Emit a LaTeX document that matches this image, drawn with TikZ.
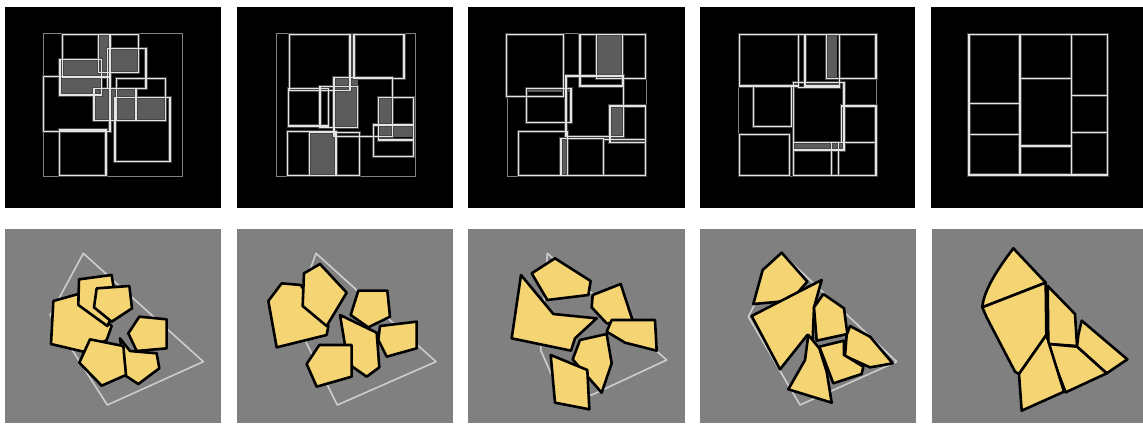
\documentclass[tikz,border=0pt]{standalone}
\usepackage{tikz}
\definecolor{ovl}{RGB}{92,92,92}
\definecolor{glow}{RGB}{70,70,70}
\definecolor{brt}{RGB}{228,228,228}
\definecolor{frm}{RGB}{130,130,130}
\definecolor{bgg}{RGB}{128,128,128}
\definecolor{yel}{RGB}{245,213,115}
\definecolor{cont}{RGB}{205,205,205}
\tikzset{
  ovlfill/.style={fill=ovl},
  boxglow/.style={draw=glow,line width=3.2pt},
  boxline/.style={draw=brt,line width=1.5pt},
  framebox/.style={draw=frm,line width=0.9pt},
  piece/.style={fill=yel,draw=black,line width=2.6pt,line join=round},
  container/.style={draw=cont,line width=1.6pt,line join=round},
  panel/.style={x=0.33333pt,y=-0.33333pt}
}
\newcommand\boxes[1]{%
  \foreach \ax/\ay/\bx/\by in {#1}{\draw[boxglow] (\ax,\ay) rectangle (\bx,\by);}%
  \foreach \ax/\ay/\bx/\by in {#1}{\draw[boxline] (\ax,\ay) rectangle (\bx,\by);}%
}
\newcommand\grays[1]{%
  \foreach \ax/\ay/\bx/\by in {#1}{\fill[ovlfill] (\ax,\ay) rectangle (\bx,\by);}%
}
\begin{document}
\begin{tikzpicture}[x=1pt,y=-1pt]
\useasboundingbox (0,0) rectangle (1143,423);
\fill[white] (0,0) rectangle (1143,423);
% top panels
\fill[black] (5,7) rectangle (221,208);
\fill[black] (237,7) rectangle (453,208);
\fill[black] (468,7) rectangle (685,208);
\fill[black] (700,7) rectangle (915,208);
\fill[black] (931,7) rectangle (1143,208);
% bottom panels
\fill[bgg] (5,229) rectangle (221,423);
\fill[bgg] (237,229) rectangle (453,423);
\fill[bgg] (468,229) rectangle (685,423);
\fill[bgg] (700,229) rectangle (916,423);
\fill[bgg] (932,229) rectangle (1143,423);

% ---------- panel 1 ----------
\begin{scope}[shift={(0,0)},panel]
  \grays{298/106/328/230, 325/145/415/218, 180/178/305/285, 282/265/408/362, 408/293/497/362}
  \draw[framebox] (130,101) rectangle (547,530);
  \boxes{188/104/330/232, 296/104/415/218, 323/145/438/265, 180/178/305/285, 130/230/330/395, 350/235/497/362, 282/265/408/362, 345/293/510/485, 178/390/318/527}
\end{scope}
% ---------- panel 2 ----------
\begin{scope}[shift={(230,0)},panel]
  \grays{315/235/383/380, 243/398/318/527, 445/295/488/410, 488/375/548/410}
  \draw[framebox] (138,101) rectangle (555,528);
  \boxes{178/103/360/272, 372/103/522/235, 312/232/487/410, 175/265/295/378, 270/260/383/382, 445/293/550/420, 430/375/550/470, 172/395/318/527, 238/398/388/527}
\end{scope}
% ---------- panel 3 ----------
\begin{scope}[shift={(460,0)},panel]
  \grays{412/105/485/235, 455/320/490/410, 200/265/333/275, 305/415/322/527}
  \draw[framebox] (143,101) rectangle (560,528);
  \boxes{140/103/310/290, 360/103/488/258, 410/103/557/235, 318/228/490/410, 200/265/333/368, 450/318/557/428, 175/395/322/527, 303/415/430/527, 430/418/557/527}
\end{scope}
% ---------- panel 4 ----------
\begin{scope}[shift={(690,0)},panel]
  \grays{415/105/440/235, 312/430/460/450}
  \draw[framebox] (145,101) rectangle (558,528);
  \boxes{148/103/325/258, 325/103/448/262, 345/103/448/258, 410/103/558/235, 190/260/305/380, 310/248/462/450, 455/318/558/428, 148/403/298/527, 310/428/445/527, 425/428/558/527}
\end{scope}
% ---------- panel 5 ----------
\begin{scope}[shift={(915,0)},panel]
  \grays{464/105/474/285}
  \boxes{162/103/315/310, 162/310/315/403, 162/403/315/525, 315/103/470/235, 315/235/470/438, 315/438/470/525, 470/103/578/287, 470/287/578/397, 470/397/578/525}
\end{scope}

% ---------- panel 6 ----------
\begin{scope}[shift={(0,220)},panel]
  \draw[container] (250,100) -- (610,425) -- (322,555) -- (150,285) -- cycle;
  \filldraw[piece] (160,243) -- (235,222) -- (335,318) -- (320,360) -- (250,395) -- (153,372) -- cycle;
  \filldraw[piece] (237,178) -- (335,165) -- (350,260) -- (322,318) -- (235,255) -- cycle;
  \filldraw[piece] (290,205) -- (388,198) -- (396,265) -- (335,305) -- (282,262) -- cycle;
  \filldraw[piece] (360,355) -- (390,393) -- (470,400) -- (478,445) -- (415,492) -- (378,468) -- cycle;
  \filldraw[piece] (418,290) -- (500,298) -- (500,385) -- (410,393) -- (385,340) -- cycle;
  \filldraw[piece] (270,358) -- (370,378) -- (378,465) -- (305,497) -- (238,428) -- cycle;
\end{scope}
% ---------- panel 7 ----------
\begin{scope}[shift={(230,220)},panel]
  \draw[container] (258,100) -- (618,425) -- (322,555) -- (190,290) -- cycle;
  \filldraw[piece] (155,190) -- (212,195) -- (295,318) -- (290,345) -- (140,382) -- (115,243) -- cycle;
  \filldraw[piece] (270,132) -- (350,218) -- (290,318) -- (218,258) -- (222,160) -- cycle;
  \filldraw[piece] (385,212) -- (472,212) -- (480,290) -- (415,322) -- (362,285) -- cycle;
  \filldraw[piece] (330,285) -- (440,338) -- (448,442) -- (410,470) -- (367,440) -- (345,375) -- cycle;
  \filldraw[piece] (450,318) -- (560,305) -- (560,385) -- (470,410) -- (445,360) -- cycle;
  \filldraw[piece] (268,375) -- (365,375) -- (365,470) -- (260,500) -- (230,432) -- cycle;
\end{scope}
% ---------- panel 8 ----------
\begin{scope}[shift={(460,220)},panel]
  \draw[container] (262,100) -- (620,420) -- (395,525) -- (290,500) -- (242,390) -- cycle;
  \filldraw[piece] (285,115) -- (392,183) -- (385,225) -- (262,240) -- (215,160) -- cycle;
  \filldraw[piece] (183,165) -- (280,282) -- (410,295) -- (345,355) -- (333,392) -- (155,355) -- cycle;
  \filldraw[piece] (398,225) -- (482,192) -- (520,308) -- (440,310) -- (395,262) -- cycle;
  \filldraw[piece] (455,300) -- (585,300) -- (590,392) -- (495,368) -- (440,335) -- cycle;
  \filldraw[piece] (360,360) -- (440,342) -- (455,430) -- (425,518) -- (390,478) -- (338,418) -- cycle;
  \filldraw[piece] (272,405) -- (382,450) -- (388,568) -- (285,548) -- cycle;
\end{scope}
% ---------- panel 9 ----------
\begin{scope}[shift={(690,220)},panel]
  \draw[container] (275,100) -- (620,425) -- (330,555) -- (175,290) -- cycle;
  \filldraw[piece] (275,98) -- (352,185) -- (302,242) -- (190,252) -- (218,150) -- cycle;
  \filldraw[piece] (185,288) -- (395,180) -- (372,262) -- (368,358) -- (352,345) -- (270,448) -- cycle;
  \filldraw[piece] (372,262) -- (400,222) -- (462,265) -- (472,342) -- (380,362) -- cycle;
  \filldraw[piece] (480,318) -- (540,350) -- (608,430) -- (540,442) -- (465,408) -- (470,345) -- cycle;
  \filldraw[piece] (388,380) -- (462,362) -- (462,405) -- (520,440) -- (515,462) -- (430,490) -- cycle;
  \filldraw[piece] (355,345) -- (388,385) -- (410,455) -- (425,548) -- (295,508) -- (345,420) -- cycle;
\end{scope}
% ---------- panel 10 ----------
\begin{scope}[shift={(915,220)},panel]
  \filldraw[piece] (295,85) -- (392,188) -- (202,262) .. controls (205,215) and (245,150) .. (295,85) -- cycle;
  \filldraw[piece] (202,262) -- (392,188) -- (394,345) -- (312,462) -- (300,455) -- (215,292) -- cycle;
  \filldraw[piece] (398,198) -- (480,282) -- (486,378) -- (400,372) -- cycle;
  \filldraw[piece] (500,302) -- (637,418) -- (575,460) -- (486,380) -- (490,345) -- cycle;
  \filldraw[piece] (400,372) -- (486,380) -- (575,460) -- (452,517) -- (405,395) -- cycle;
  \filldraw[piece] (312,462) -- (394,345) -- (447,515) -- (320,572) -- cycle;
\end{scope}
\end{tikzpicture}
\end{document}
